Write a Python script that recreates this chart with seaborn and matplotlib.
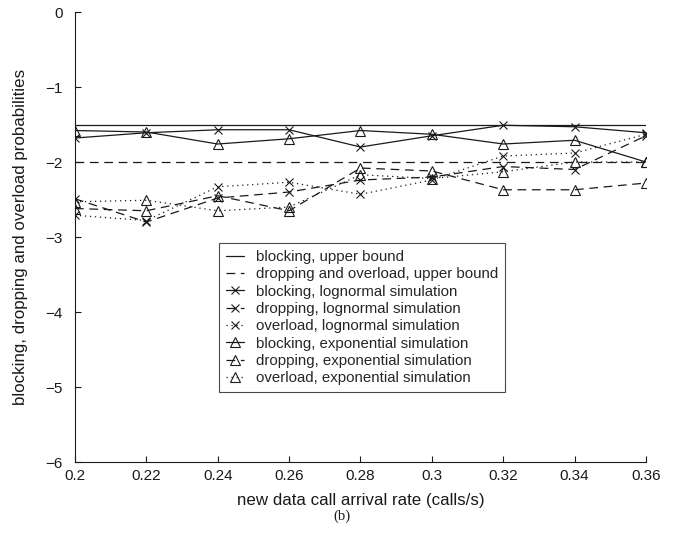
import matplotlib
matplotlib.use("Agg")
import matplotlib.pyplot as plt
import seaborn as sns
import pandas as pd

# arrival rates (calls/s)
rates = [0.20, 0.22, 0.24, 0.26, 0.28, 0.30, 0.32, 0.34, 0.36]
x_ticks = [0.2, 0.22, 0.24, 0.26, 0.28, 0.3, 0.32, 0.34, 0.36]
x_tick_labels = ["0.2", "0.22", "0.24", "0.26", "0.28", "0.3", "0.32", "0.34", "0.36"]
y_ticks = [0, -1, -2, -3, -4, -5, -6]

# analytical upper bounds (log10)
blocking_bound = [-1.5] * 9
dropping_overload_bound = [-2.0] * 9

# lognormal simulation (log10)
blocking_logn = [-1.68, -1.61, -1.57, -1.57, -1.80, -1.65, -1.51, -1.53, -1.61]
dropping_logn = [-2.49, -2.80, -2.48, -2.40, -2.24, -2.20, -2.06, -2.10, -1.65]
overload_logn = [-2.71, -2.78, -2.33, -2.27, -2.43, -2.24, -1.92, -1.88, -1.63]

# exponential simulation (log10)
blocking_exp = [-1.58, -1.60, -1.76, -1.69, -1.58, -1.63, -1.76, -1.71, -2.00]
dropping_exp = [-2.62, -2.65, -2.45, -2.65, -2.08, -2.12, -2.37, -2.37, -2.28]
overload_exp = [-2.53, -2.51, -2.65, -2.60, -2.17, -2.22, -2.13, -2.00, -2.00]

series = [
    ("blocking, upper bound", blocking_bound, "-", None),
    ("dropping and overload, upper bound", dropping_overload_bound, (0, (7, 4.5)), None),
    ("blocking, lognormal simulation", blocking_logn, "-", "x"),
    ("dropping, lognormal simulation", dropping_logn, (0, (7, 4.5)), "x"),
    ("overload, lognormal simulation", overload_logn, (0, (1, 3)), "x"),
    ("blocking, exponential simulation", blocking_exp, "-", "^"),
    ("dropping, exponential simulation", dropping_exp, (0, (7, 4.5)), "^"),
    ("overload, exponential simulation", overload_exp, (0, (1, 3)), "^"),
]

sns.set_theme(style="ticks")
plt.rcParams["font.family"] = ["Liberation Sans", "DejaVu Sans"]
plt.rcParams["axes.unicode_minus"] = True

fig = plt.figure(figsize=(6.84, 5.36), dpi=100)
ax = fig.add_axes([0.1096, 0.138, 0.8348, 0.8396])

ink = "#1a1a1a"
for label, vals, ls, mk in series:
    df = pd.DataFrame({"rate": rates, "value": vals})
    sns.lineplot(
        data=df, x="rate", y="value", ax=ax, label=label,
        color=ink, linewidth=0.9, linestyle=ls,
        marker=mk, markersize=7.5 if mk == "^" else 6,
        markerfacecolor="none" if mk == "^" else ink,
        markeredgecolor=ink, markeredgewidth=0.8,
    )

ax.set_xlim(0.2, 0.36)
ax.set_ylim(-6, 0)
ax.set_xticks(x_ticks)
ax.set_xticklabels(x_tick_labels)
ax.set_yticks(y_ticks)
ax.tick_params(direction="in", length=4, width=0.8, labelsize=11, colors=ink)
ax.tick_params(axis="x", pad=5)
ax.tick_params(axis="y", pad=9)
for side in ("top", "right"):
    ax.spines[side].set_visible(False)
for side in ("left", "bottom"):
    ax.spines[side].set_linewidth(0.8)
    ax.spines[side].set_color(ink)

ax.set_xlabel("new data call arrival rate (calls/s)", fontsize=12.2, color=ink, labelpad=7)
ax.set_ylabel("blocking, dropping and overload probabilities", fontsize=12.2, color=ink, labelpad=12)

leg = ax.legend(
    loc="upper left", bbox_to_anchor=(0.252, 0.486), fontsize=10.8,
    handlelength=1.25, handletextpad=0.75, labelspacing=0.22,
    frameon=True, fancybox=False, edgecolor=ink, borderpad=0.45, numpoints=1,
    borderaxespad=0,
)
leg.get_frame().set_linewidth(0.8)

fig.text(0.5, 0.037, "(b)", ha="center", va="center", fontsize=10.5,
         family=["Liberation Serif", "DejaVu Serif"], color=ink)

fig.savefig("out.png", dpi=100, facecolor="white")
